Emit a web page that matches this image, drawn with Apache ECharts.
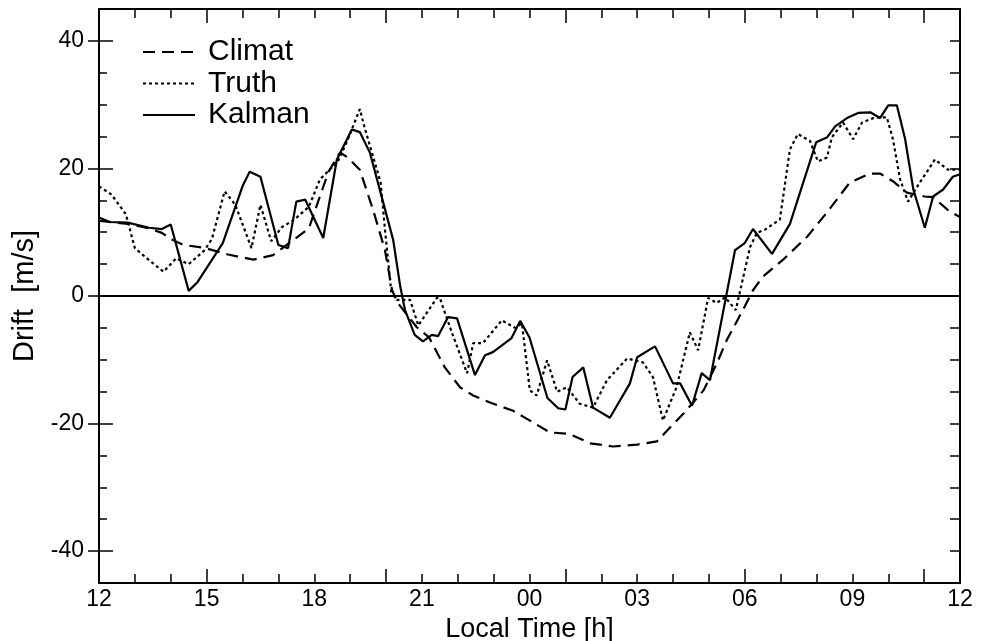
<!DOCTYPE html>
<html>
<head>
<meta charset="utf-8">
<title>Drift</title>
<script src="https://cdn.jsdelivr.net/npm/echarts@6.0.0/dist/echarts.min.js"></script>
<style>
  html, body { margin: 0; padding: 0; background: #fff; }
  #main { width: 981px; height: 641px; }
</style>
</head>
<body>
<div id="main"></div>
<script>
// data: [local time in hours since noon day 1, drift m/s]
var climat = [
  [12.0, 11.8], [12.8, 11.3], [13.4, 10.6], [13.75, 9.9], [14.05, 8.8], [14.35, 8.0],
  [14.9, 7.6], [15.6, 6.5], [16.3, 5.7], [16.85, 6.4], [17.35, 8.5], [17.85, 10.6],
  [18.15, 15.5], [18.4, 19.5], [18.72, 22.5], [18.94, 21.7], [19.27, 19.8], [19.64, 13.5],
  [19.97, 7.2], [20.17, 0.9], [20.33, -1.1], [20.86, -4.9], [21.2, -6.5], [21.64, -11.2],
  [22.06, -14.3], [22.43, -15.6], [22.9, -16.7], [23.54, -18.0], [24.0, -19.5], [24.57, -21.4],
  [25.1, -21.6], [25.69, -23.1], [26.33, -23.6], [27.0, -23.3], [27.55, -22.8], [27.97, -20.3],
  [28.3, -18.4], [28.85, -14.8], [29.22, -10.6], [29.5, -6.9], [29.92, -2.5], [30.23, 0.9],
  [30.5, 3.0], [31.07, 5.7], [31.74, 9.3], [32.29, 13.1], [32.93, 17.8], [33.49, 19.2],
  [33.77, 19.2], [34.13, 18.0], [34.52, 16.2], [35.02, 15.6], [35.25, 15.5], [35.72, 13.2],
  [36.0, 12.4]
];

var truth = [
  [12.0, 17.2], [12.35, 15.9], [12.75, 12.8], [13.0, 7.5], [13.4, 5.6], [13.8, 3.8],
  [14.15, 5.9], [14.5, 5.0], [14.95, 7.2], [15.15, 9.0], [15.5, 16.4], [15.8, 14.3],
  [16.25, 7.5], [16.5, 14.3], [16.8, 8.6], [17.1, 10.8], [17.45, 12.0], [17.85, 14.0],
  [18.16, 18.3], [18.66, 21.1], [18.94, 24.6], [19.27, 29.3], [19.4, 26.5], [19.85, 17.8],
  [19.98, 9.9], [20.15, 0.5], [20.3, -0.6], [20.67, -0.6], [20.9, -4.6], [21.42, -0.3],
  [21.5, -0.3], [21.84, -5.8], [22.26, -12.1], [22.43, -7.4], [22.7, -7.4], [23.23, -3.8],
  [23.6, -5.0], [23.79, -4.3], [24.01, -14.8], [24.2, -15.6], [24.49, -10.1], [24.77, -15.0],
  [25.04, -14.3], [25.4, -16.9], [25.77, -17.5], [26.16, -13.2], [26.72, -9.8], [27.16, -10.4],
  [27.44, -12.7], [27.72, -19.5], [28.1, -14.3], [28.47, -5.7], [28.7, -8.5], [28.98, -0.3],
  [29.22, -1.1], [29.45, -0.2], [29.75, -2.2], [30.15, 7.7], [30.34, 9.9], [30.56, 10.4],
  [30.98, 12.0], [31.26, 23.0], [31.48, 25.4], [31.82, 24.3], [32.04, 21.1], [32.29, 21.7],
  [32.43, 24.9], [32.74, 27.2], [33.02, 24.6], [33.27, 27.2], [33.63, 28.0], [33.96, 28.0],
  [34.13, 24.6], [34.33, 18.3], [34.55, 14.8], [34.88, 17.8], [35.3, 21.4], [35.66, 19.8],
  [36.0, 19.8]
];

var kalman = [
  [12.0, 12.3], [12.3, 11.6], [12.8, 11.5], [13.4, 10.7], [13.75, 10.5], [14.0, 11.2],
  [14.5, 0.8], [14.75, 2.2], [15.45, 8.3], [16.0, 17.2], [16.2, 19.5], [16.5, 18.7],
  [17.0, 8.0], [17.27, 7.5], [17.5, 14.8], [17.75, 15.1], [18.25, 9.1], [18.63, 21.4],
  [19.05, 26.1], [19.27, 25.7], [19.55, 22.5], [20.2, 8.8], [20.4, 1.4], [20.53, -2.2],
  [20.8, -6.1], [21.03, -7.1], [21.28, -6.1], [21.45, -6.3], [21.73, -3.3], [21.98, -3.5],
  [22.48, -12.4], [22.76, -9.3], [22.98, -8.8], [23.5, -6.6], [23.74, -3.9], [24.0, -6.5],
  [24.5, -16.0], [24.8, -17.6], [25.0, -17.8], [25.2, -12.7], [25.5, -11.2], [25.77, -17.5],
  [26.24, -19.1], [26.8, -13.7], [27.0, -9.6], [27.5, -7.9], [28.0, -13.7], [28.2, -13.7],
  [28.53, -17.2], [28.8, -12.1], [29.03, -13.2], [29.5, 0.5], [29.73, 7.2], [30.0, 8.3],
  [30.23, 10.5], [30.76, 6.6], [31.26, 11.3], [31.99, 24.1], [32.3, 24.9], [32.52, 26.6],
  [32.85, 27.9], [33.16, 28.7], [33.5, 28.8], [33.77, 27.9], [34.0, 29.9], [34.24, 29.9],
  [34.47, 24.6], [34.7, 16.7], [35.02, 10.7], [35.25, 15.6], [35.53, 16.7], [35.8, 18.7],
  [36.0, 19.1]
];

var xLabelHours = [12, 15, 18, 21, 24, 27, 30, 33, 36];
var xLongTicks = [15, 20, 25, 30, 35];
var yLabelValues = [-40, -20, 0, 20, 40];

var font = '"Liberation Sans", Arial, Helvetica, sans-serif';
var black = '#000';

function hourLabel(v) {
  var h = Math.round(v) % 24;
  return (h < 10 ? '0' : '') + h;
}

var myChart = echarts.init(document.getElementById('main'), null, { renderer: 'canvas' });

// x axes: labels + long ticks, then hourly short ticks (bottom and top)
function xLong(pos, withLabels) {
  return {
    type: 'value', position: pos, min: 12, max: 36, interval: 3,
    axisLine: { show: true, onZero: false, lineStyle: { color: black, width: 2 } },
    axisTick: { show: true, inside: true, length: 14, customValues: xLongTicks, lineStyle: { color: black, width: 1.5 } },
    axisLabel: {
      show: withLabels, customValues: xLabelHours, formatter: hourLabel,
      color: black, fontSize: 23, fontFamily: font, margin: 5
    },
    splitLine: { show: false },
    name: withLabels ? 'Local Time [h]' : '',
    nameLocation: 'middle', nameGap: 27,
    nameTextStyle: { color: black, fontSize: 27, fontFamily: font }
  };
}
function xShort(pos) {
  return {
    type: 'value', position: pos, min: 12, max: 36, interval: 1,
    axisLine: { show: false, onZero: false },
    axisTick: { show: true, inside: true, length: 9, lineStyle: { color: black, width: 1.5 } },
    axisLabel: { show: false },
    splitLine: { show: false }
  };
}

var option = {
  backgroundColor: '#fff',
  animation: false,
  grid: { left: 99, right: 21, top: 9, bottom: 58, containLabel: false, outerBoundsMode: 'none' },
  legend: {
    data: ['Climat', 'Truth', 'Kalman'],
    orient: 'vertical',
    left: 142, top: 37,
    itemWidth: 52, itemHeight: 14, itemGap: 1.5,
    padding: 0,
    itemStyle: { opacity: 0 },
    lineStyle: { opacity: 1 },
    textStyle: { color: black, fontSize: 30, lineHeight: 30, fontFamily: font, padding: [0, 0, 0, 8] }
  },
  xAxis: [xLong('bottom', true), xShort('bottom'), xLong('top', false), xShort('top')],
  yAxis: [{
    type: 'value', position: 'left', min: -45, max: 45, interval: 5,
    axisLine: { show: true, onZero: false, lineStyle: { color: black, width: 2 } },
    axisTick: { show: true, inside: false, length: 11, customValues: yLabelValues, lineStyle: { color: black, width: 1.5 } },
    axisLabel: { customValues: yLabelValues, color: black, fontSize: 23, fontFamily: font, margin: 15 },
    splitLine: { show: false },
    name: 'Drift  [m/s]', nameLocation: 'middle', nameGap: 48,
    nameTextStyle: { color: black, fontSize: 29, fontFamily: font }
  }, {
    // major ticks, inner part
    type: 'value', position: 'left', min: -45, max: 45, interval: 5,
    axisLine: { show: false, onZero: false },
    axisTick: { show: true, inside: true, length: 14, customValues: yLabelValues, lineStyle: { color: black, width: 1.5 } },
    axisLabel: { show: false },
    splitLine: { show: false }
  }, {
    // minor ticks every 5
    type: 'value', position: 'left', min: -45, max: 45, interval: 5,
    axisLine: { show: false, onZero: false },
    axisTick: { show: true, inside: true, length: 8, lineStyle: { color: black, width: 1.5 } },
    axisLabel: { show: false },
    splitLine: { show: false }
  }, {
    type: 'value', position: 'right', min: -45, max: 45, interval: 5,
    axisLine: { show: true, onZero: false, lineStyle: { color: black, width: 2 } },
    axisTick: { show: true, inside: true, length: 10, lineStyle: { color: black, width: 1.5 } },
    axisLabel: { show: false },
    splitLine: { show: false }
  }],
  series: [{
    name: 'Climat',
    type: 'line',
    data: climat,
    symbol: 'none',
    lineStyle: { color: black, width: 2.2, type: [12, 7] },
    itemStyle: { color: black }
  }, {
    name: 'Truth',
    type: 'line',
    data: truth,
    symbol: 'none',
    lineStyle: { color: black, width: 2.2, type: [3, 3] },
    itemStyle: { color: black }
  }, {
    name: 'Kalman',
    type: 'line',
    data: kalman,
    symbol: 'none',
    lineStyle: { color: black, width: 2.2, type: 'solid' },
    itemStyle: { color: black },
    markLine: {
      silent: true,
      symbol: 'none',
      label: { show: false },
      lineStyle: { color: black, width: 2, type: 'solid' },
      data: [{ yAxis: 0 }]
    }
  }]
};

myChart.setOption(option);
</script>
</body>
</html>
